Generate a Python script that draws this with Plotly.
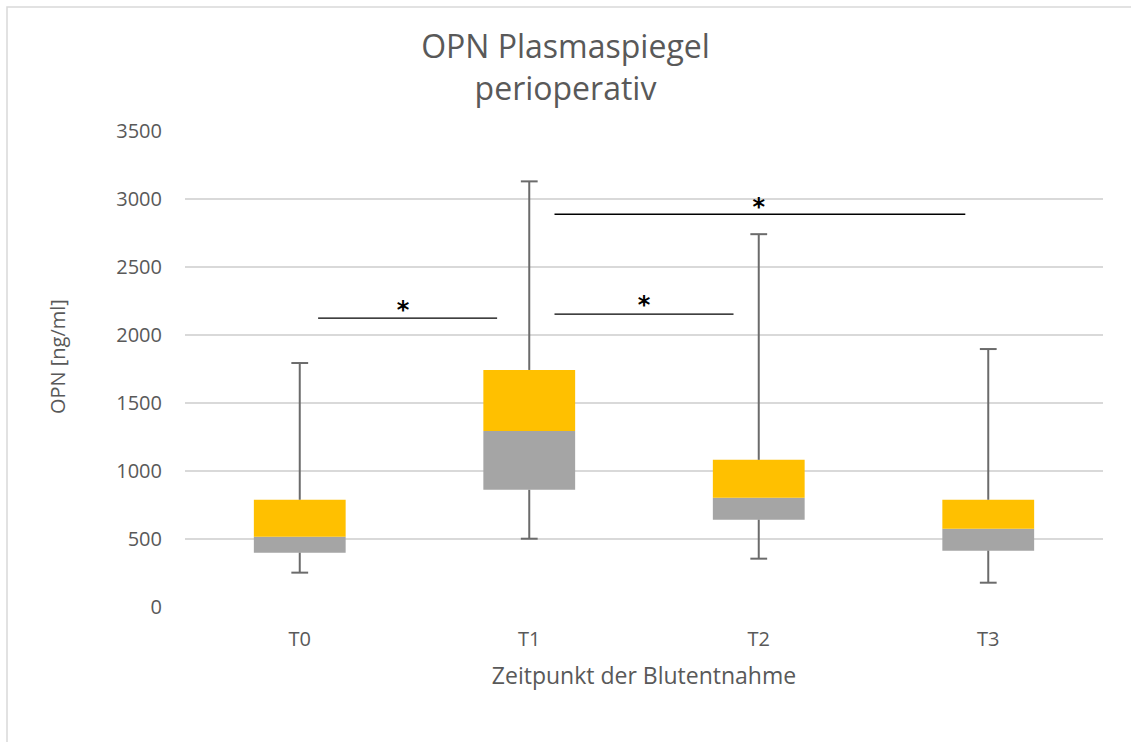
import plotly.graph_objects as go

categories = ["T0", "T1", "T2", "T3"]
minimum = [250, 500, 353, 176]
q1 = [397, 860, 640, 412]
median = [515, 1294, 801, 574]
q3 = [787, 1743, 1081, 787]
maximum = [1794, 3132, 2743, 1897]

# significance brackets (x in category units, y in ng/ml)
sig_x0 = [0.08, 1.11, 1.11]
sig_x1 = [0.86, 1.89, 2.90]
sig_y = [2125, 2154, 2890]
star_x = [0.45, 1.5, 2.0]
star_y = [2170, 2210, 2930]

x = list(range(len(categories)))
TXT = "#595959"
FONT = "Open Sans"
WHISK = "#6b6b6b"

fig = go.Figure()
fig.add_bar(x=x, y=[m - a for m, a in zip(median, q1)], base=q1, width=0.4,
            marker=dict(color="#A5A5A5", line=dict(width=0)), showlegend=False)
fig.add_bar(x=x, y=[b - m for b, m in zip(q3, median)], base=median, width=0.4,
            marker=dict(color="#FFC000", line=dict(width=0)), showlegend=False)

# whisker segments built from the data arrays
wx, wy = [], []
for xi, lo, a, b, hi in zip(x, minimum, q1, q3, maximum):
    wx += [xi, xi, None, xi, xi, None]
    wy += [b, hi, None, lo, a, None]
fig.add_scatter(x=wx, y=wy, mode="lines", line=dict(color=WHISK, width=2),
                showlegend=False, hoverinfo="skip")
fig.add_scatter(x=x + x, y=maximum + minimum, mode="markers",
                marker=dict(symbol="line-ew-open", size=12, color=WHISK,
                            line=dict(color=WHISK, width=2)),
                showlegend=False, hoverinfo="skip")

for a, b, yy in zip(sig_x0, sig_x1, sig_y):
    fig.add_scatter(x=[a, b], y=[yy, yy], mode="lines",
                    line=dict(color="black", width=1.3), showlegend=False, hoverinfo="skip")
fig.add_scatter(x=star_x, y=star_y, mode="text", text=["<b>*</b>"] * 3,
                textfont=dict(family="DejaVu Sans", size=24, color="black"),
                showlegend=False, hoverinfo="skip")

fig.update_layout(
    width=1131, height=742,
    margin=dict(l=185, r=28, t=131, b=135),
    paper_bgcolor="white", plot_bgcolor="white",
    barmode="overlay",
    title=dict(text="OPN Plasmaspiegel<br>perioperativ", x=0.5, xanchor="center",
               y=1 - 58 / 742, yanchor="middle",
               font=dict(family=FONT, size=32, color=TXT)),
    font=dict(family=FONT, color=TXT),
    shapes=[dict(type="rect", xref="paper", yref="paper", x0=-178 / 918, x1=1.2,
                 y0=-0.5, y1=1 + 124 / 476, line=dict(color="#D9D9D9", width=1.5),
                 fillcolor="rgba(0,0,0,0)", layer="below")],
    annotations=[dict(text="OPN [ng/ml]", textangle=-90, xref="paper", yref="paper",
                      x=0, y=0.525, xanchor="center", yanchor="middle", xshift=-128,
                      showarrow=False, font=dict(family=FONT, size=20, color=TXT))],
)
fig.update_xaxes(range=[-0.5, 3.5], tickvals=x, ticktext=categories,
                 showgrid=False, zeroline=False, showline=False,
                 tickfont=dict(size=20, color=TXT), ticks="", ticklabelstandoff=18,
                 title=dict(text="Zeitpunkt der Blutentnahme", font=dict(size=23, color=TXT),
                            standoff=16))
fig.update_yaxes(range=[-3, 3503], tickvals=[0, 500, 1000, 1500, 2000, 2500, 3000, 3500],
                 showgrid=True, gridcolor="#D9D9D9",
                 gridwidth=1.5, zeroline=False, showline=False,
                 tickfont=dict(size=20, color=TXT), ticks="", ticklabelstandoff=22)

fig.write_html("out.html", config={"displayModeBar": False},
               post_script="document.body.style.margin='0px';")
